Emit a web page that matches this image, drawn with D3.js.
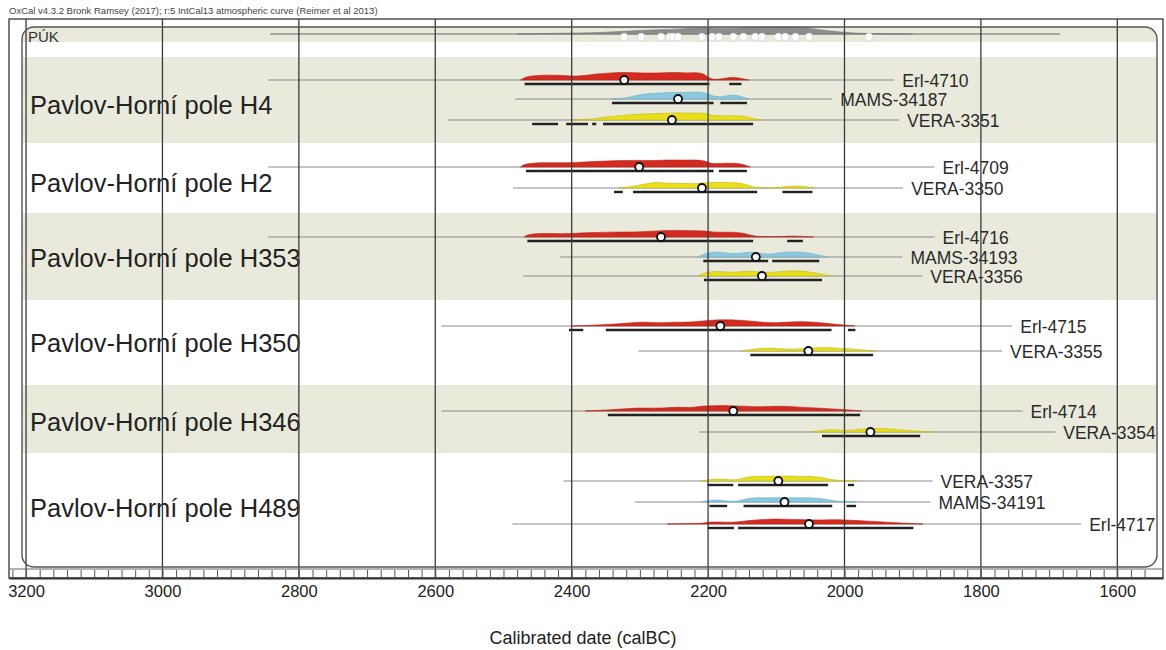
<!DOCTYPE html>
<html>
<head>
<meta charset="utf-8">
<script src="https://cdn.jsdelivr.net/npm/d3@7"></script>
<style>
  body { margin: 0; background: #fff; }
  text { font-family: "Liberation Sans", Arial, sans-serif; }
</style>
</head>
<body>
<div id="chart"></div>
<script>
// ---- data (calBC) ----
const headerText = "OxCal v4.3.2 Bronk Ramsey (2017); r:5 IntCal13 atmospheric curve (Reimer et al 2013)";
const axisTitle = "Calibrated date (calBC)";
const tickYears = [3200, 3000, 2800, 2600, 2400, 2200, 2000, 1800, 1600];

const sumLabel = "PÚK";
const sumExtent = [2842, 1684];
const sumDensity = [[2480,0],[2440,0.08],[2400,0.12],[2360,0.18],[2330,0.35],[2300,0.5],[2270,0.6],[2240,0.7],[2210,0.85],[2190,0.8],[2170,0.75],[2150,0.8],[2130,0.95],[2110,0.9],[2090,1],[2070,0.95],[2050,0.8],[2030,0.5],[2010,0.3],[1990,0.15],[1970,0.08],[1940,0.03],[1900,0]];
const sumMedians = [2323, 2298, 2269, 2256, 2251, 2244, 2209, 2194, 2184, 2163, 2148, 2131, 2121, 2097, 2087, 2072, 2052, 1964];

const groups = ["Pavlov-Horní pole H4", "Pavlov-Horní pole H2", "Pavlov-Horní pole H353",
                "Pavlov-Horní pole H350", "Pavlov-Horní pole H346", "Pavlov-Horní pole H489"];
const groupDates = [
  ["Erl-4710", "MAMS-34187", "VERA-3351"],
  ["Erl-4709", "VERA-3350"],
  ["Erl-4716", "MAMS-34193", "VERA-3356"],
  ["Erl-4715", "VERA-3355"],
  ["Erl-4714", "VERA-3354"],
  ["VERA-3357", "MAMS-34191", "Erl-4717"]
];

const medians = {
  "Erl-4710": 2323, "MAMS-34187": 2244, "VERA-3351": 2253,
  "Erl-4709": 2301, "VERA-3350": 2209,
  "Erl-4716": 2269, "MAMS-34193": 2130, "VERA-3356": 2121,
  "Erl-4715": 2182, "VERA-3355": 2053,
  "Erl-4714": 2163, "VERA-3354": 1962,
  "VERA-3357": 2097, "MAMS-34191": 2088, "Erl-4717": 2052
};

const extents = {
  "Erl-4710": [2845, 1927], "MAMS-34187": [2483, 2018], "VERA-3351": [2581, 1920],
  "Erl-4709": [2845, 1868], "VERA-3350": [2486, 1914],
  "Erl-4716": [2845, 1868], "MAMS-34193": [2417, 1915], "VERA-3356": [2471, 1886],
  "Erl-4715": [2591, 1754], "VERA-3355": [2302, 1769],
  "Erl-4714": [2591, 1739], "VERA-3354": [2213, 1691],
  "VERA-3357": [2412, 1871], "MAMS-34191": [2307, 1874], "Erl-4717": [2487, 1653]
};

const ranges95 = {
  "Erl-4710": [[2469,2198],[2169,2151]],
  "MAMS-34187": [[2341,2192],[2182,2143]],
  "VERA-3351": [[2458,2420],[2408,2376],[2370,2364],[2354,2134]],
  "Erl-4709": [[2467,2192],[2184,2143]],
  "VERA-3350": [[2338,2325],[2310,2128],[2091,2047]],
  "Erl-4716": [[2465,2134],[2084,2061]],
  "MAMS-34193": [[2207,2112],[2106,2037]],
  "VERA-3356": [[2206,2033]],
  "Erl-4715": [[2404,2383],[2350,2019],[1995,1984]],
  "VERA-3355": [[2138,1958]],
  "Erl-4714": [[2347,1977]],
  "VERA-3354": [[2033,1889]],
  "VERA-3357": [[2201,2163],[2156,2024],[1995,1986]],
  "MAMS-34191": [[2198,2172],[2148,2018],[1997,1983]],
  "Erl-4717": [[2201,2162],[2156,1899]]
};

const densities = {
  "Erl-4710": [[2475,0],[2468,0.35],[2455,0.5],[2430,0.55],[2410,0.5],[2395,0.4],[2380,0.5],[2360,0.7],[2340,0.8],[2325,0.85],[2305,0.8],[2285,0.75],[2265,0.8],[2245,0.85],[2230,0.75],[2218,0.85],[2205,0.7],[2198,0.1],[2185,0.05],[2172,0.25],[2160,0.3],[2150,0.15],[2140,0]],
  "MAMS-34187": [[2340,0],[2320,0.1],[2305,0.4],[2290,0.6],[2270,0.65],[2255,0.75],[2240,0.7],[2225,0.75],[2210,0.8],[2198,0.5],[2188,0.2],[2175,0.3],[2163,0.5],[2152,0.3],[2140,0]],
  "VERA-3351": [[2400,0],[2370,0.1],[2350,0.35],[2320,0.55],[2290,0.7],[2260,0.75],[2240,0.8],[2220,0.75],[2205,0.8],[2195,0.5],[2180,0.45],[2160,0.5],[2145,0.4],[2132,0.1],[2120,0]],
  "Erl-4709": [[2475,0],[2468,0.4],[2440,0.5],[2415,0.45],[2395,0.5],[2370,0.6],[2340,0.7],[2310,0.75],[2280,0.7],[2255,0.8],[2235,0.75],[2220,0.8],[2205,0.7],[2195,0.35],[2185,0.4],[2165,0.45],[2150,0.35],[2138,0]],
  "VERA-3350": [[2330,0],[2310,0.15],[2290,0.5],[2275,0.65],[2260,0.5],[2240,0.55],[2225,0.45],[2210,0.55],[2190,0.65],[2170,0.6],[2150,0.55],[2138,0.2],[2125,0],[2100,0],[2090,0.15],[2070,0.25],[2055,0.15],[2045,0]],
  "Erl-4716": [[2470,0],[2462,0.35],[2440,0.4],[2415,0.35],[2395,0.4],[2370,0.5],[2340,0.55],[2310,0.55],[2290,0.6],[2270,0.7],[2245,0.75],[2225,0.7],[2205,0.7],[2190,0.5],[2170,0.55],[2150,0.5],[2135,0.1],[2120,0.03],[2090,0.05],[2075,0.12],[2060,0.05],[2045,0]],
  "MAMS-34193": [[2215,0],[2205,0.4],[2190,0.6],[2175,0.45],[2160,0.35],[2145,0.5],[2130,0.55],[2118,0.35],[2108,0.3],[2095,0.5],[2075,0.6],[2055,0.5],[2040,0.25],[2025,0]],
  "VERA-3356": [[2215,0],[2205,0.35],[2190,0.55],[2175,0.45],[2160,0.4],[2145,0.55],[2130,0.5],[2115,0.35],[2100,0.45],[2080,0.6],[2060,0.55],[2040,0.3],[2020,0]],
  "Erl-4715": [[2400,0],[2380,0.05],[2350,0.15],[2320,0.3],[2300,0.45],[2285,0.4],[2265,0.35],[2250,0.45],[2230,0.4],[2210,0.55],[2195,0.65],[2175,0.7],[2155,0.65],[2135,0.55],[2120,0.4],[2100,0.35],[2080,0.45],[2060,0.5],[2040,0.4],[2020,0.25],[2000,0.1],[1985,0]],
  "VERA-3355": [[2150,0],[2135,0.2],[2115,0.35],[2100,0.3],[2085,0.2],[2070,0.2],[2055,0.3],[2035,0.4],[2015,0.35],[1995,0.25],[1975,0.15],[1955,0]],
  "Erl-4714": [[2380,0],[2350,0.1],[2320,0.25],[2300,0.35],[2280,0.3],[2260,0.35],[2245,0.45],[2225,0.35],[2210,0.55],[2190,0.6],[2170,0.6],[2150,0.55],[2130,0.45],[2110,0.5],[2090,0.55],[2070,0.45],[2050,0.35],[2030,0.3],[2010,0.2],[1990,0.1],[1975,0]],
  "VERA-3354": [[2050,0],[2035,0.15],[2020,0.3],[2005,0.2],[1995,0.15],[1980,0.3],[1960,0.4],[1945,0.4],[1925,0.3],[1905,0.15],[1885,0.05],[1870,0]],
  "VERA-3357": [[2210,0],[2200,0.15],[2185,0.25],[2170,0.15],[2160,0.1],[2150,0.3],[2135,0.55],[2115,0.5],[2095,0.55],[2075,0.55],[2055,0.5],[2035,0.45],[2020,0.15],[2005,0.03],[1992,0.1],[1982,0]],
  "MAMS-34191": [[2210,0],[2198,0.2],[2185,0.25],[2172,0.1],[2160,0.05],[2150,0.25],[2135,0.5],[2115,0.45],[2095,0.5],[2075,0.45],[2055,0.5],[2035,0.4],[2020,0.2],[2005,0.03],[1993,0.1],[1982,0]],
  "Erl-4717": [[2260,0],[2230,0.03],[2210,0.05],[2200,0.2],[2185,0.25],[2165,0.15],[2150,0.3],[2130,0.45],[2110,0.55],[2090,0.55],[2070,0.5],[2050,0.45],[2030,0.45],[2010,0.5],[1990,0.4],[1970,0.35],[1950,0.25],[1925,0.15],[1900,0.05],[1885,0]]
};

// ---- layout ----
const width = 1166, height = 650;
const outer = { left: 9, right: 1163, top: 19, bottom: 578 };
const inner = { left: 22, right: 1157, top: 27, bottom: 567, r: 12 };
const sumY = 34;
const bandEdges = [57, 143, 213, 300, 385, 453, 567];
const rowY = [[80, 99, 120], [167, 188], [237, 257, 276], [326, 351], [411, 432], [481, 502, 524]];
const labelY = [105, 183, 258, 343, 422, 508];

const labColor = { "Erl": "#d42a1f", "MAMS": "#88c8e0", "VERA": "#e8de1a" };
const labStroke = { "Erl": "#b3241b", "MAMS": "#6eaec8", "VERA": "#c2b814" };
const bandFill = "#e9eadc";

const x = d3.scaleLinear().domain([3225, 1533]).range([outer.left, outer.right]);
const h = d3.scaleLinear().domain([0, 1]).range([0, 9]);

const svg = d3.select("#chart").append("svg")
  .attr("width", width).attr("height", height);

svg.append("text")
  .attr("x", 9).attr("y", 14)
  .attr("font-size", "9.5px").attr("fill", "#444")
  .text(headerText);

svg.append("defs").append("clipPath").attr("id", "frameClip")
  .append("rect")
  .attr("x", inner.left).attr("y", inner.top)
  .attr("width", inner.right - inner.left).attr("height", inner.bottom - inner.top)
  .attr("rx", inner.r);

// shaded bands
const bands = svg.append("g").attr("clip-path", "url(#frameClip)");
bands.append("rect")
  .attr("x", inner.left).attr("y", inner.top)
  .attr("width", inner.right - inner.left).attr("height", 15)
  .attr("fill", bandFill);
groups.forEach((g, i) => {
  if (i % 2 === 0) {
    bands.append("rect")
      .attr("x", inner.left).attr("y", bandEdges[i])
      .attr("width", inner.right - inner.left).attr("height", bandEdges[i + 1] - bandEdges[i])
      .attr("fill", bandFill);
  }
});

// group labels
svg.append("g").selectAll("text")
  .data(groups)
  .enter()
  .append("text")
  .attr("x", 30)
  .attr("y", (d, i) => labelY[i])
  .attr("dy", "0.35em")
  .attr("font-size", "25.5px")
  .attr("fill", "#222")
  .text(d => d);

const area = d3.area()
  .x(d => x(d[0]))
  .y0(0)
  .y1(d => -h(d[1]))
  .curve(d3.curveBasis);

// sum row
const sumG = svg.append("g").attr("transform", `translate(0,${sumY})`);
sumG.append("line")
  .attr("x1", x(sumExtent[0])).attr("x2", x(sumExtent[1]))
  .attr("stroke", "#666").attr("stroke-width", 1.2);
sumG.append("path")
  .datum(sumDensity)
  .attr("d", d3.area().x(d => x(d[0])).y0(0).y1(d => -h(d[1]) * 0.8).curve(d3.curveBasis))
  .attr("fill", "#8d8d8d").attr("stroke", "#777").attr("stroke-width", 0.6);
sumG.selectAll("circle")
  .data(sumMedians)
  .enter()
  .append("circle")
  .attr("cx", d => x(d)).attr("cy", 3).attr("r", 3.8)
  .attr("fill", "#fff").attr("stroke", "#d8d8d8").attr("stroke-width", 0.8);

// date rows
const rows = [];
groupDates.forEach((names, gi) => names.forEach((n, j) => rows.push({ name: n, y: rowY[gi][j], lab: n.split("-")[0] })));

const rowG = svg.append("g").selectAll("g")
  .data(rows)
  .enter()
  .append("g")
  .attr("transform", d => `translate(0,${d.y})`);

rowG.append("line")
  .attr("x1", d => x(extents[d.name][0]))
  .attr("x2", d => x(extents[d.name][1]))
  .attr("stroke", "#8a8a8a").attr("stroke-width", 1);

rowG.append("path")
  .attr("d", d => area(densities[d.name]))
  .attr("fill", d => labColor[d.lab])
  .attr("stroke", d => labStroke[d.lab]).attr("stroke-width", 0.6);

rowG.append("text")
  .attr("x", d => x(extents[d.name][1]) + 8)
  .attr("y", 1).attr("dy", "0.35em")
  .attr("font-size", "17.5px").attr("fill", "#2a2a2a")
  .text(d => d.name);

// grid lines
svg.append("g").selectAll("line")
  .data(tickYears)
  .enter()
  .append("line")
  .attr("x1", d => x(d)).attr("x2", d => x(d))
  .attr("y1", outer.top).attr("y2", outer.bottom)
  .attr("stroke", "#3a3a3a").attr("stroke-width", 1.3);

// 95% ranges and medians
rowG.each(function (d) {
  d3.select(this).selectAll("line.rng")
    .data(ranges95[d.name])
    .enter()
    .append("line")
    .attr("class", "rng")
    .attr("x1", r => x(r[0])).attr("x2", r => x(r[1]))
    .attr("y1", 4).attr("y2", 4)
    .attr("stroke", "#222").attr("stroke-width", 2.4);
});
rowG.append("circle")
  .attr("cx", d => x(medians[d.name])).attr("cy", 0).attr("r", 4)
  .attr("fill", "#fff").attr("stroke", "#111").attr("stroke-width", 1.8);

// frames
svg.append("rect")
  .attr("x", inner.left).attr("y", inner.top)
  .attr("width", inner.right - inner.left).attr("height", inner.bottom - inner.top)
  .attr("rx", inner.r)
  .attr("fill", "none").attr("stroke", "#555").attr("stroke-width", 1.4);
svg.append("rect")
  .attr("x", outer.left).attr("y", outer.top)
  .attr("width", outer.right - outer.left).attr("height", outer.bottom - outer.top)
  .attr("fill", "none").attr("stroke", "#444").attr("stroke-width", 1.4);

svg.append("text")
  .attr("x", 28).attr("y", sumY + 3).attr("dy", "0.35em")
  .attr("font-size", "15px").attr("fill", "#333")
  .text(sumLabel);

// axis
const minorTicks = d3.range(3220, 1540, -20);
const xAxis = d3.axisBottom(x).tickValues(minorTicks).tickSize(0).tickFormat("");
const axisG = svg.append("g")
  .attr("transform", `translate(0,${outer.bottom})`)
  .call(xAxis);
axisG.select(".domain").attr("stroke", "#333").attr("stroke-width", 2);
axisG.selectAll(".tick line").attr("y1", -8).attr("y2", 0).attr("stroke", "#555").attr("stroke-width", 1);

svg.append("line")
  .attr("x1", outer.left).attr("x2", outer.right)
  .attr("y1", inner.bottom + 2).attr("y2", inner.bottom + 2)
  .attr("stroke", "#666").attr("stroke-width", 1);

const labelAxis = d3.axisBottom(x).tickValues(tickYears).tickSize(0).tickPadding(7).tickFormat(d3.format("d"));
const labG = svg.append("g")
  .attr("transform", `translate(0,${outer.bottom})`)
  .call(labelAxis);
labG.select(".domain").remove();
labG.selectAll("text")
  .attr("font-size", "16.5px").attr("fill", "#222")
  .attr("font-family", "Liberation Sans, Arial, sans-serif");

svg.append("text")
  .attr("x", 583).attr("y", 638).attr("dy", "0.35em")
  .attr("text-anchor", "middle")
  .attr("font-size", "18px").attr("fill", "#222")
  .text(axisTitle);
</script>
</body>
</html>
